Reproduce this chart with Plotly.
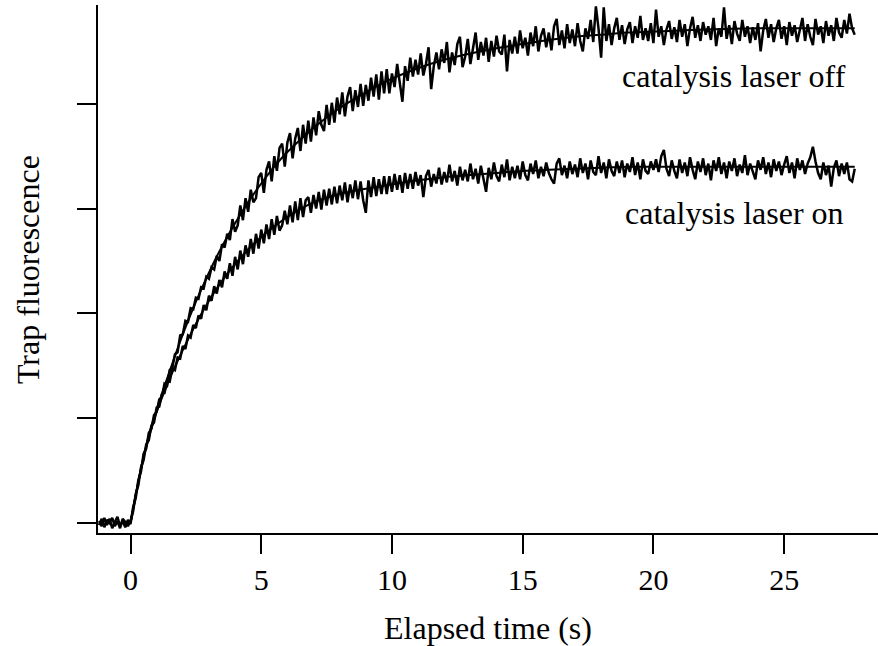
import plotly.graph_objects as go

# ---------------- data ----------------
T_START = -1.2   # first sample time (s)
T_STEP = 0.1     # sampling interval (s)

# raw trace, catalysis laser off (one row = 1 s of samples)
off_raw = [
    0.02, -0.03, 0.05, -0.02, 0.04, -0.05, 0.01, 0.06, -0.03, 0.02,
    -0.04, 0.03, -0.01, 0.15, 0.24, 0.41, 0.49, 0.66, 0.71, 0.86,
    0.90, 1.03, 1.06, 1.18, 1.20, 1.33, 1.31, 1.46, 1.48, 1.61,
    1.63, 1.79, 1.80, 1.93, 1.92, 2.05, 2.04, 2.15, 2.14, 2.25,
    2.24, 2.35, 2.33, 2.44, 2.42, 2.55, 2.50, 2.66, 2.63, 2.76,
    2.70, 2.90, 2.78, 2.84, 3.03, 2.89, 3.10, 2.97, 3.18, 3.06,
    3.10, 3.30, 3.34, 3.15, 3.37, 3.45, 3.26, 3.50, 3.36, 3.58,
    3.62, 3.40, 3.63, 3.72, 3.48, 3.67, 3.77, 3.55, 3.80, 3.62,
    3.84, 3.64, 3.87, 3.70, 3.93, 3.80, 3.74, 3.99, 3.80, 4.01,
    3.82, 4.06, 3.90, 4.11, 3.88, 4.07, 4.16, 3.93, 4.13, 3.97,
    4.19, 3.98, 4.18, 4.03, 4.25, 4.07, 4.28, 4.04, 4.31, 4.10,
    4.33, 4.10, 4.29, 4.16, 4.38, 4.20, 4.02, 4.36, 4.22, 4.44,
    4.26, 4.42, 4.28, 4.48, 4.27, 4.38, 4.54, 4.14, 4.36, 4.49,
    4.33, 4.52, 4.39, 4.59, 4.30, 4.49, 4.37, 4.57, 4.64, 4.35,
    4.45, 4.62, 4.38, 4.53, 4.68, 4.42, 4.59, 4.46, 4.63, 4.40,
    4.60, 4.45, 4.65, 4.50, 4.47, 4.66, 4.31, 4.61, 4.48, 4.64,
    4.48, 4.70, 4.53, 4.63, 4.46, 4.68, 4.55, 4.74, 4.50, 4.65,
    4.72, 4.54, 4.68, 4.51, 4.74, 4.81, 4.56, 4.70, 4.53, 4.76,
    4.58, 4.71, 4.55, 4.77, 4.60, 4.50, 4.72, 4.62, 4.80, 4.59,
    4.93, 4.72, 4.44, 4.92, 4.60, 4.76, 4.56, 4.72, 4.82, 4.61,
    4.75, 4.57, 4.71, 4.78, 4.58, 4.74, 4.63, 4.84, 4.61, 4.72,
    4.60, 4.77, 4.58, 4.90, 4.64, 4.74, 4.56, 4.71, 4.79, 4.62,
    4.73, 4.59, 4.80, 4.64, 4.76, 4.55, 4.72, 4.83, 4.63, 4.75,
    4.60, 4.78, 4.66, 4.74, 4.61, 4.82, 4.55, 4.72, 4.64, 4.92,
    4.62, 4.75, 4.57, 4.79, 4.67, 4.60, 4.80, 4.64, 4.74, 4.58,
    4.73, 4.61, 4.77, 4.50, 4.70, 4.81, 4.63, 4.76, 4.59, 4.72,
    4.80, 4.62, 4.74, 4.56, 4.78, 4.65, 4.75, 4.59, 4.71, 4.82,
    4.60, 4.76, 4.64, 4.56, 4.81, 4.66, 4.74, 4.58, 4.79, 4.65,
    4.75, 4.60, 4.82, 4.68, 4.63, 4.80, 4.67, 4.86, 4.72, 4.66,
]

# raw trace, catalysis laser on
on_raw = [
    -0.02, 0.04, -0.04, 0.03, 0.00, 0.05, -0.03, 0.02, -0.05, 0.04,
    0.01, -0.03, 0.02, 0.11, 0.28, 0.36, 0.53, 0.60, 0.75, 0.79,
    0.93, 0.96, 1.10, 1.11, 1.23, 1.24, 1.36, 1.35, 1.48, 1.46,
    1.58, 1.57, 1.69, 1.66, 1.79, 1.77, 1.89, 1.86, 1.98, 1.95,
    2.08, 2.03, 2.17, 2.12, 2.26, 2.19, 2.32, 2.25, 2.40, 2.33,
    2.48, 2.36, 2.54, 2.42, 2.60, 2.47, 2.65, 2.54, 2.71, 2.57,
    2.76, 2.62, 2.80, 2.67, 2.85, 2.71, 2.90, 2.75, 2.93, 2.79,
    2.84, 2.98, 2.85, 3.03, 2.87, 3.07, 2.89, 3.10, 2.92, 3.08,
    3.11, 2.96, 3.13, 3.00, 3.16, 2.99, 3.18, 3.03, 3.19, 3.04,
    3.21, 3.05, 3.22, 3.08, 3.25, 3.06, 3.23, 3.10, 3.27, 3.09,
    3.26, 3.08, 2.96, 3.27, 3.11, 3.30, 3.12, 3.28, 3.14, 3.31,
    3.14, 3.31, 3.16, 3.33, 3.18, 3.32, 3.15, 3.34, 3.19, 3.33,
    3.19, 3.35, 3.22, 3.32, 3.11, 3.31, 3.37, 3.21, 3.33, 3.24,
    3.39, 3.23, 3.35, 3.25, 3.42, 3.26, 3.36, 3.22, 3.40, 3.27,
    3.37, 3.26, 3.43, 3.28, 3.38, 3.24, 3.41, 3.29, 3.16, 3.39,
    3.28, 3.44, 3.31, 3.26, 3.42, 3.30, 3.47, 3.27, 3.40, 3.29,
    3.41, 3.28, 3.45, 3.32, 3.27, 3.43, 3.33, 3.46, 3.29, 3.40,
    3.31, 3.44, 3.34, 3.28, 3.24, 3.43, 3.48, 3.32, 3.41, 3.29,
    3.45, 3.33, 3.42, 3.30, 3.48, 3.34, 3.43, 3.28, 3.46, 3.35,
    3.32, 3.50, 3.34, 3.44, 3.29, 3.47, 3.36, 3.31, 3.45, 3.34,
    3.46, 3.30, 3.43, 3.35, 3.49, 3.32, 3.44, 3.28, 3.47, 3.36,
    3.33, 3.45, 3.37, 3.47, 3.35, 3.50, 3.56, 3.38, 3.31, 3.46,
    3.36, 3.29, 3.47, 3.34, 3.44, 3.31, 3.49, 3.37, 3.28, 3.45,
    3.35, 3.48, 3.32, 3.43, 3.27, 3.46, 3.36, 3.49, 3.33, 3.44,
    3.29, 3.45, 3.36, 3.48, 3.31, 3.42, 3.34, 3.51, 3.32, 3.43,
    3.35, 3.28, 3.46, 3.37, 3.49, 3.33, 3.44, 3.30, 3.47, 3.36,
    3.45, 3.32, 3.42, 3.50, 3.34, 3.44, 3.29, 3.48, 3.37, 3.46,
    3.33, 3.43, 3.49, 3.59, 3.45, 3.34, 3.28, 3.44, 3.32, 3.41,
    3.21, 3.39, 3.46, 3.31, 3.43, 3.33, 3.44, 3.28, 3.26, 3.38,
]

# fitted curves
fit_t = [0, 0.25, 0.5, 0.75, 1, 1.5, 2, 2.5, 3, 3.5, 4, 4.5, 5, 5.5, 6,
         7, 8, 9, 10, 11, 12, 13, 14, 15, 16, 17, 18, 19, 20, 22, 24, 26, 27.7]
off_fit = [0, 0.33, 0.63, 0.88, 1.08, 1.45, 1.80, 2.11, 2.39, 2.64, 2.86, 3.06,
           3.24, 3.40, 3.54, 3.77, 3.96, 4.11, 4.24, 4.34, 4.42, 4.48, 4.53,
           4.57, 4.61, 4.64, 4.66, 4.68, 4.69, 4.71, 4.72, 4.72, 4.72]
on_fit = [0, 0.33, 0.63, 0.86, 1.06, 1.38, 1.65, 1.90, 2.12, 2.31, 2.47, 2.61,
          2.73, 2.83, 2.92, 3.06, 3.14, 3.19, 3.23, 3.27, 3.30, 3.32, 3.34,
          3.36, 3.37, 3.38, 3.39, 3.40, 3.40, 3.40, 3.40, 3.40, 3.40]

x_ticks = [0, 5, 10, 15, 20, 25]
y_ticks = [0, 1, 2, 3, 4]
label_off = "catalysis laser off"
label_on = "catalysis laser on"

t_raw = [round(T_START + i * T_STEP, 2) for i in range(len(off_raw))]

FONT = "Liberation Serif"

fig = go.Figure()
fig.add_trace(go.Scatter(x=t_raw, y=off_raw, mode="lines",
                         line=dict(color="black", width=2.5), showlegend=False))
fig.add_trace(go.Scatter(x=t_raw, y=on_raw, mode="lines",
                         line=dict(color="black", width=2.5), showlegend=False))
fig.add_trace(go.Scatter(x=fit_t, y=off_fit, mode="lines",
                         line=dict(color="black", width=2, shape="spline"),
                         showlegend=False))
fig.add_trace(go.Scatter(x=fit_t, y=on_fit, mode="lines",
                         line=dict(color="black", width=2, shape="spline"),
                         showlegend=False))

fig.add_annotation(x=27.45, y=4.27, xref="x", yref="y", text=label_off,
                   showarrow=False, xanchor="right", yanchor="middle",
                   font=dict(family=FONT, size=32, color="black"))
fig.add_annotation(x=27.35, y=2.96, xref="x", yref="y", text=label_on,
                   showarrow=False, xanchor="right", yanchor="middle",
                   font=dict(family=FONT, size=32, color="black"))

fig.add_annotation(x=0.5, y=-95 / 528, xref="paper", yref="paper",
                   text="Elapsed time (s)", showarrow=False,
                   xanchor="center", yanchor="middle",
                   font=dict(family=FONT, size=32, color="black"))
fig.add_annotation(x=-70 / 780, y=0.498, xref="paper", yref="paper",
                   text="Trap fluorescence", showarrow=False, textangle=-90,
                   xanchor="center", yanchor="middle",
                   font=dict(family=FONT, size=32, color="black"))

fig.update_layout(
    width=878, height=646,
    margin=dict(l=98, r=0, t=5, b=113),
    plot_bgcolor="white", paper_bgcolor="white",
    font=dict(family=FONT, color="black"),
    xaxis=dict(range=[-1.243, 28.59], showline=True, linecolor="black",
               linewidth=2, ticks="outside", ticklen=19, tickwidth=2,
               tickcolor="black", tickvals=x_ticks,
               tickfont=dict(family=FONT, size=30, color="black"),
               showgrid=False, zeroline=False),
    yaxis=dict(range=[-0.095, 4.943], showline=True, linecolor="black",
               linewidth=2, ticks="outside", ticklen=19, tickwidth=2,
               tickcolor="black", tickvals=y_ticks, showticklabels=False,
               showgrid=False, zeroline=False),
)

fig.write_html("out.html")
